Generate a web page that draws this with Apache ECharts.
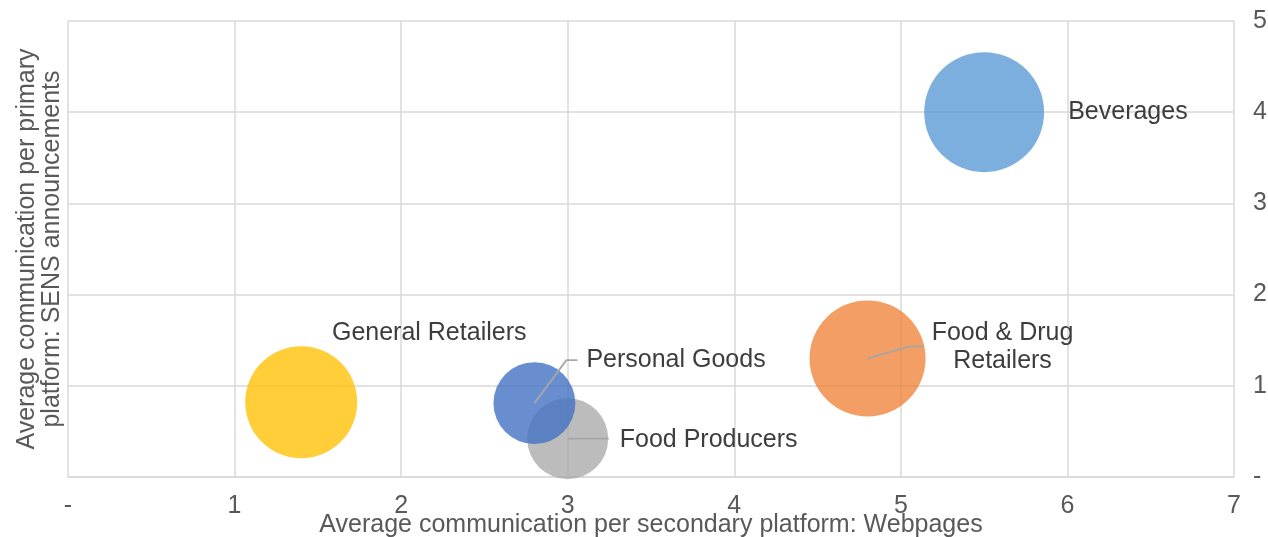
<!DOCTYPE html>
<html>
<head>
<meta charset="utf-8">
<script src="https://cdn.jsdelivr.net/npm/echarts@6/dist/echarts.min.js"></script>
<style>
  html, body { margin: 0; padding: 0; background: #fff; }
  #chart { width: 1268px; height: 537px; }
</style>
</head>
<body>
<div id="chart"></div>
<script>
// values
const categories = ['Beverages', 'Food & Drug Retailers', 'General Retailers', 'Food Producers', 'Personal Goods']
const webpages = [5.5, 4.8, 1.4, 3.0, 2.8]
const sens = [4.0, 1.3, 0.82, 0.42, 0.81]
const bubbleSize = [3.6, 3.37, 3.14, 1.64, 1.68]
const xTicks = ['-', '1', '2', '3', '4', '5', '6', '7']
const yTicks = ['-', '1', '2', '3', '4', '5']

const font = 'Liberation Sans, Arial, sans-serif'
const colors = {
  'Beverages': 'rgba(91,155,213,0.8)',
  'Food & Drug Retailers': 'rgba(237,125,49,0.75)',
  'General Retailers': 'rgba(255,192,0,0.78)',
  'Food Producers': 'rgba(165,165,165,0.75)',
  'Personal Goods': 'rgba(68,114,196,0.8)'
}
// label offset from bubble centre
const labelPos = {
  'Beverages': { offset: [84, 0], align: 'left', text: 'Beverages' },
  'Food & Drug Retailers': { offset: [135, -11], align: 'center', text: 'Food & Drug\nRetailers' },
  'General Retailers': { offset: [128, -69], align: 'center', text: 'General Retailers' },
  'Food Producers': { offset: [52, 1], align: 'left', text: 'Food Producers' },
  'Personal Goods': { offset: [52, -43], align: 'left', text: 'Personal Goods' }
}
// leader lines, pixel offsets from bubble centre
const leaders = {
  'Food & Drug Retailers': [[0, 0], [42, -12], [56, -12]],
  'Food Producers': [[0, 0], [41, 0]],
  'Personal Goods': [[0, 0], [32, -43], [43, -43]]
}

const chart = echarts.init(document.getElementById('chart'))

const points = categories.map((c, i) => ({
  name: c,
  value: [webpages[i], sens[i], bubbleSize[i]],
  itemStyle: { color: colors[c], opacity: 1 },
  label: {
    show: true,
    position: 'inside',
    offset: labelPos[c].offset,
    align: labelPos[c].align,
    formatter: labelPos[c].text
  }
}))

const option = {
  animation: false,
  textStyle: { fontFamily: font },
  grid: { left: 68, right: 34, top: 21, bottom: 60, outerBoundsMode: 'none', containLabel: false },
  xAxis: {
    type: 'value',
    min: 0,
    max: 7,
    interval: 1,
    name: 'Average communication per secondary platform: Webpages',
    nameLocation: 'middle',
    nameGap: 48,
    nameMoveOverlap: false,
    nameTextStyle: { color: '#595959', fontSize: 25, fontFamily: font, verticalAlign: 'middle' },
    axisLine: { show: true, lineStyle: { color: '#d9d9d9', width: 1.5 } },
    axisTick: { show: false },
    axisLabel: {
      color: '#595959',
      fontSize: 25,
      margin: 17,
      fontFamily: font,
      formatter: v => xTicks[Math.round(v)]
    },
    splitLine: { show: true, lineStyle: { color: '#d9d9d9', width: 1.5 } }
  },
  yAxis: [{
    type: 'value',
    position: 'right',
    min: 0,
    max: 5,
    interval: 1,
    axisLine: { show: false },
    axisTick: { show: false },
    axisLabel: {
      color: '#595959',
      fontSize: 25,
      margin: 19,
      fontFamily: font,
      formatter: v => yTicks[Math.round(v)]
    },
    splitLine: { show: true, lineStyle: { color: '#d9d9d9', width: 1.5 } }
  }, {
    type: 'value',
    position: 'left',
    min: 0,
    max: 5,
    name: 'Average communication per primary\nplatform: SENS announcements',
    nameLocation: 'middle',
    nameGap: 3,
    nameTextStyle: { color: '#595959', fontSize: 25, lineHeight: 25, fontFamily: font },
    axisLine: { show: false },
    axisTick: { show: false },
    axisLabel: { show: false },
    splitLine: { show: false }
  }],
  series: [{
    type: 'scatter',
    data: points,
    symbolSize: d => 63.2 * Math.sqrt(d[2]),
    label: {
      color: '#3d3d3d',
      fontSize: 25,
      lineHeight: 28,
      fontFamily: font
    },
    emphasis: { disabled: true }
  }, {
    type: 'custom',
    z: 3,
    data: categories.map((c, i) => [webpages[i], sens[i]]),
    renderItem: (params, api) => {
      const c = categories[params.dataIndex]
      const pts = leaders[c]
      if (!pts) return null
      const base = api.coord([api.value(0), api.value(1)])
      return {
        type: 'polyline',
        shape: { points: pts.map(p => [base[0] + p[0], base[1] + p[1]]) },
        style: { stroke: '#a6a6a6', lineWidth: 1.8, fill: null }
      }
    }
  }]
}
chart.setOption(option)
</script>
</body>
</html>
